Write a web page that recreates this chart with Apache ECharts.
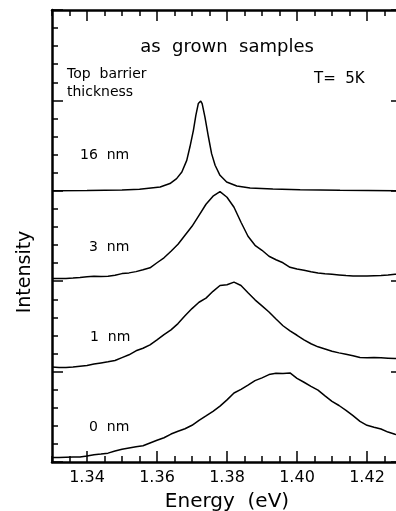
<!DOCTYPE html>
<html>
<head>
<meta charset="utf-8">
<script src="https://cdn.jsdelivr.net/npm/echarts@6/dist/echarts.min.js"></script>
<style>
  html, body { margin: 0; padding: 0; background: #fff; }
  #chart { width: 396px; height: 511px; }
</style>
</head>
<body>
<div id="chart"></div>
<script>
// photon energy (eV) for the three noisy spectra
const energy = [1.330, 1.332, 1.334, 1.336, 1.338, 1.340, 1.342, 1.344, 1.346, 1.348,
  1.350, 1.352, 1.354, 1.356, 1.358, 1.360, 1.362, 1.364, 1.366, 1.368,
  1.370, 1.372, 1.374, 1.376, 1.378, 1.380, 1.382, 1.384, 1.386, 1.388,
  1.390, 1.392, 1.394, 1.396, 1.398, 1.400, 1.402, 1.404, 1.406, 1.408,
  1.410, 1.412, 1.414, 1.416, 1.418, 1.420, 1.422, 1.424, 1.426, 1.428, 1.430]

// intensities, offset per sample (arb. units)
const nm3 = [2.029, 2.029, 2.030, 2.035, 2.041, 2.048, 2.055, 2.052, 2.056, 2.065,
  2.084, 2.092, 2.106, 2.126, 2.148, 2.204, 2.259, 2.331, 2.408, 2.508,
  2.607, 2.729, 2.851, 2.940, 2.990, 2.929, 2.818, 2.652, 2.497, 2.397,
  2.342, 2.276, 2.237, 2.204, 2.154, 2.134, 2.121, 2.104, 2.091, 2.082,
  2.076, 2.069, 2.062, 2.058, 2.058, 2.058, 2.061, 2.064, 2.069, 2.076, 2.078]
const nm1 = [1.051, 1.045, 1.045, 1.050, 1.059, 1.067, 1.083, 1.096, 1.108, 1.123,
  1.155, 1.186, 1.230, 1.258, 1.296, 1.352, 1.409, 1.462, 1.531, 1.617,
  1.697, 1.767, 1.813, 1.888, 1.952, 1.960, 1.990, 1.952, 1.872, 1.794,
  1.727, 1.659, 1.582, 1.507, 1.450, 1.402, 1.352, 1.308, 1.274, 1.250,
  1.225, 1.207, 1.191, 1.175, 1.156, 1.153, 1.155, 1.152, 1.148, 1.144, 1.144]
const nm0 = [0.049, 0.049, 0.052, 0.055, 0.055, 0.066, 0.080, 0.088, 0.098, 0.121,
  0.140, 0.154, 0.168, 0.180, 0.210, 0.240, 0.268, 0.309, 0.340, 0.368,
  0.406, 0.461, 0.510, 0.561, 0.618, 0.687, 0.763, 0.804, 0.851, 0.900,
  0.931, 0.967, 0.982, 0.979, 0.985, 0.926, 0.882, 0.837, 0.795, 0.732,
  0.671, 0.625, 0.572, 0.513, 0.450, 0.406, 0.384, 0.365, 0.331, 0.306, 0.290]

// 16 nm sample: narrow line, sampled finer around the peak
const energy16 = [1.330, 1.340, 1.350, 1.355, 1.3609, 1.3637, 1.3656, 1.3671, 1.3685, 1.3694,
  1.3704, 1.3711, 1.3718, 1.3725, 1.3729, 1.3737, 1.3747, 1.3756, 1.3766, 1.3780,
  1.3799, 1.3828, 1.3866, 1.3931, 1.4009, 1.4123, 1.430]
const nm16 = [3.000, 3.003, 3.010, 3.017, 3.042, 3.080, 3.135, 3.208, 3.337, 3.484,
  3.669, 3.835, 3.965, 3.993, 3.965, 3.816, 3.595, 3.411, 3.283, 3.171,
  3.097, 3.053, 3.031, 3.020, 3.012, 3.005, 3.000]

const majorE = [1.34, 1.36, 1.38, 1.40, 1.42]
const sampleLabels = ['16  nm', '3  nm', '1  nm', '0  nm']

const FONT = '"DejaVu Sans", sans-serif'
const chart = echarts.init(document.getElementById('chart'))

function pairs (xs, ys) {
  return xs.map((x, i) => [x, ys[i]])
}

function minorX (position) {
  return {
    type: 'value', position: position, min: 1.33, max: 1.43, interval: 0.005,
    axisLine: { show: true, lineStyle: { color: '#000', width: 2.5 } },
    axisTick: { show: true, inside: true, length: 6, lineStyle: { color: '#000', width: 1.5 } },
    axisLabel: { show: false },
    splitLine: { show: false }
  }
}

function majorX (position) {
  return {
    type: 'value', position: position, min: 1.33, max: 1.43,
    axisLine: { show: false },
    axisTick: { show: true, inside: true, length: 11, customValues: majorE, lineStyle: { color: '#000', width: 1.5 } },
    axisLabel: { show: false },
    splitLine: { show: false }
  }
}

function yAxis (position) {
  return {
    type: 'value', position: position, min: 0, max: 5, interval: 1,
    axisLine: { show: true, lineStyle: { color: '#000', width: 2.5 } },
    axisTick: { show: true, inside: true, length: 11, lineStyle: { color: '#000', width: 1.5 } },
    minorTick: { show: true, splitNumber: 5, length: 6, lineStyle: { color: '#000', width: 1.5 } },
    axisLabel: { show: false },
    splitLine: { show: false },
    minorSplitLine: { show: false }
  }
}

const bottomAxis = minorX('bottom')
bottomAxis.axisLabel = {
  show: true, color: '#000', fontSize: 16, fontFamily: FONT, margin: 8,
  formatter: function (v) {
    return Math.round(v * 1000) % 20 === 0 ? v.toFixed(2) : ''
  }
}
bottomAxis.name = 'Energy  (eV)'
bottomAxis.nameLocation = 'middle'
bottomAxis.nameGap = 30
bottomAxis.nameTextStyle = { color: '#000', fontSize: 20, fontFamily: FONT }

const lineStyle = { color: '#000', width: 1.5 }
function spectrum (data) {
  return { type: 'line', xAxisIndex: 0, yAxisIndex: 0, data: data, showSymbol: false, symbol: 'none', lineStyle: lineStyle, silent: true }
}

function label (text, x, y, size, align) {
  return {
    type: 'text', x: x, y: y,
    style: { text: text, font: size + 'px ' + FONT, fill: '#000', textAlign: align || 'left', textVerticalAlign: 'middle', align: align || 'left', verticalAlign: 'middle' }
  }
}

const option = {
  animation: false,
  backgroundColor: '#fff',
  grid: { left: 52, right: -6, top: 10, bottom: 49, containLabel: false, outerBoundsMode: 'none' },
  xAxis: [bottomAxis, majorX('bottom'), minorX('top'), majorX('top')],
  yAxis: [yAxis('left'), yAxis('right')],
  series: [
    spectrum(pairs(energy16, nm16)),
    spectrum(pairs(energy, nm3)),
    spectrum(pairs(energy, nm1)),
    spectrum(pairs(energy, nm0))
  ],
  graphic: [
    label('as  grown  samples', 227, 47, 18, 'center'),
    label('T=  5K', 314, 79, 15),
    label('Top  barrier', 67, 74, 14),
    label('thickness', 67, 92, 14),
    label(sampleLabels[0], 80, 155, 14),
    label(sampleLabels[1], 89, 247, 14),
    label(sampleLabels[2], 90, 337, 14),
    label(sampleLabels[3], 89, 427, 14),
    {
      type: 'text', x: 25, y: 272, rotation: Math.PI / 2,
      style: { text: 'Intensity', font: '19px ' + FONT, fill: '#000', textAlign: 'center', textVerticalAlign: 'middle', align: 'center', verticalAlign: 'middle' }
    }
  ]
}

chart.setOption(option)
</script>
</body>
</html>
